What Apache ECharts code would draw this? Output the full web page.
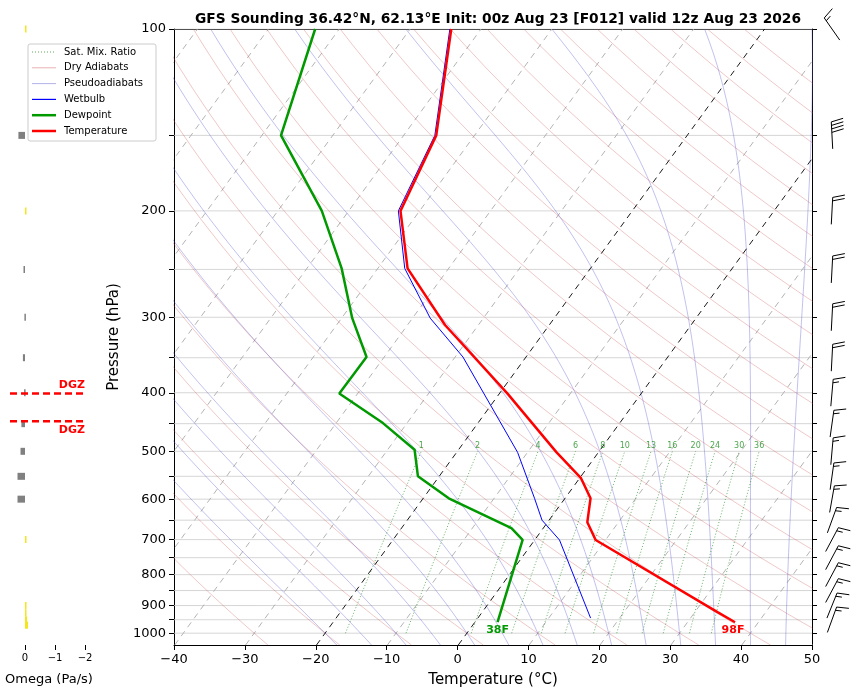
<!DOCTYPE html>
<html><head><meta charset="utf-8">
<script src="https://cdn.jsdelivr.net/npm/echarts@6/dist/echarts.min.js"></script>
<style>html,body{margin:0;padding:0;background:#fff}#c{width:857px;height:696px}</style>
</head><body><div id="c"></div>
<script>
// ---- data ----
const tempP = [959,923,701,655,598,554,502,401,309,249,200,150,100];
const tempT = [36.7,33.2,8.6,5.6,3.6,0.2,-5.9,-18.9,-34.7,-45.8,-52.7,-55.4,-64.2];
const dewP  = [959,701,670,598,550,497,449,401,349,301,249,200,150,100];
const dewT  = [3.2,-1.7,-4.5,-16.4,-23.0,-26.2,-33.4,-42.6,-42.5,-48.5,-55.1,-63.8,-77.3,-83.4];
const wbP   = [944,701,650,598,502,349,301,249,200,150,100];
const wbT   = [15.9,3.5,-1.0,-4.3,-11.4,-28.9,-37.5,-46.2,-53.0,-55.6,-64.4];
const omegaP = [100,150,200,250,300,350,400,450,500,550,600,700,900,925,950,970];
const omegaV = [-0.02,0.22,-0.02,0.05,0.02,0.07,0.03,0.12,0.15,0.25,0.25,-0.03,-0.03,-0.04,-0.07,-0.1];
const barbP   = [100,150,200,250,300,350,400,450,500,550,600,650,700,750,800,850,900,950];
const barbSpd = [15,40,20,20,20,20,15,15,15,15,15,15,15,15,15,15,15,15];
const barbDir = [325,357,3,3,3,3,5,8,5,8,10,20,28,28,28,28,22,20];
const mixW = [1,2,4,6,8,10,13,16,20,24,30,36];
const pLevels = [100,150,200,250,300,350,400,450,500,550,600,650,700,750,800,850,900,950,1000];
const pLabels = [100,200,300,400,500,600,700,800,900,1000];
const dgzP = [401,446];
const title = 'GFS Sounding 36.42°N, 62.13°E Init: 00z Aug 23 [F012] valid 12z Aug 23 2026';

const SK = 62, PREF = 1050, PBOT = 1046;
const sx = (t,p) => t + SK*Math.log10(PREF/p);
const prof = (P,T) => P.map((p,i)=>[sx(T[i],p),p]);

const series = [];
const bg = (data, style, z) => series.push({type:'line',data,showSymbol:false,silent:true,lineStyle:style,z:z||1,xAxisIndex:0,yAxisIndex:0,animation:false});

pLevels.forEach(p=>bg([[-40,p],[50,p]],{color:'#cccccc',width:0.8}));
for(let t=-130;t<=50;t+=10){
  const black = (t===0||t===-20);
  bg([[sx(t,PBOT),PBOT],[sx(t,100),100]],{color:black?'#000':'#aaaaaa',width:0.9,type:[6,5]}, black?2:1);
}
for(let th=-30;th<=210;th+=10){
  const d=[]; for(let p=PBOT;p>=100;p-=10){const T=(th+273.15)*Math.pow(p/1000,0.2857)-273.15;d.push([sx(T,p),p]);}
  d.push([sx((th+273.15)*Math.pow(0.1,0.2857)-273.15,100),100]);
  bg(d,{color:'rgba(200,70,70,0.5)',width:0.6});
}
function es(T){return 6.112*Math.exp(17.67*(T-273.15)/(T-29.65));}
function dTdp(T,p){const e=es(T),rs=0.622*e/(p-e);const Rd=287.04,Cp=1005.7,Lv=2.501e6;
  return (Rd*T+Lv*rs)/(Cp+Lv*Lv*rs*0.622/(Rd*T*T))/p;}
for(let t0=-20;t0<=45;t0+=5){
  let T=t0+273.15,p=1000;const up=[[sx(t0,1000),1000]];
  while(p>100){const dp=-5;T+=dTdp(T,p)*dp;p+=dp;up.push([sx(T-273.15,p),p]);}
  T=t0+273.15;p=1000;const dn=[];
  while(p<PBOT){const dp=2;T+=dTdp(T,p)*dp;p+=dp;dn.unshift([sx(T-273.15,p),p]);}
  bg(dn.concat(up),{color:'rgba(80,80,210,0.6)',width:0.6});
}
mixW.forEach(w=>{
  const d=[];for(let p=1000;p>=500;p-=10){const e=w*p/(622+w);const l=Math.log(e/6.112);const Td=243.5*l/(17.67-l);d.push([sx(Td,p),p]);}
  series.push({type:'line',data:d,showSymbol:false,silent:true,animation:false,z:1,
    lineStyle:{color:'rgba(0,128,0,0.75)',width:0.8,type:[1,2]},
    markPoint:{symbol:'circle',symbolSize:0,data:[{coord:d[d.length-1],label:{show:true,formatter:String(w),color:'rgba(0,128,0,0.7)',fontSize:8,offset:[0,-5],fontFamily:'DejaVu Sans'}}]}});
});
series.push({type:'line',data:prof(wbP,wbT),showSymbol:false,lineStyle:{color:'#0000ff',width:1},z:5,animation:false});
series.push({type:'line',data:prof(dewP,dewT),showSymbol:false,lineStyle:{color:'#009900',width:2.5},z:6,animation:false,
  markPoint:{symbol:'circle',symbolSize:0,data:[{coord:[sx(dewT[0],dewP[0]),dewP[0]],label:{show:true,formatter:'38F',color:'#009900',fontWeight:'bold',fontSize:11,offset:[0,8],fontFamily:'DejaVu Sans'}}]}});
series.push({type:'line',data:prof(tempP,tempT),showSymbol:false,lineStyle:{color:'#ff0000',width:2.5},z:7,animation:false,
  markPoint:{symbol:'circle',symbolSize:0,data:[{coord:[sx(tempT[0],tempP[0]),tempP[0]],label:{show:true,formatter:'98F',color:'#ff0000',fontWeight:'bold',fontSize:11,offset:[-2,8],fontFamily:'DejaVu Sans'}}]}});
series.push({type:'custom',xAxisIndex:0,yAxisIndex:0,clip:false,animation:false,z:8,silent:true,
  data:barbP.map((p,i)=>[50,p,barbSpd[i],barbDir[i]]),
  renderItem:(params,api)=>{
    const c=api.coord([api.value(0),api.value(1)]);const spd=api.value(2),dir=api.value(3)*Math.PI/180;
    const cx=c[0]+20,cy=c[1];const ux=Math.sin(dir),uy=-Math.cos(dir);const px=Math.cos(dir),py=Math.sin(dir);
    const L=27;const bx=cx-ux*L/2,by=cy-uy*L/2,tx=cx+ux*L/2,ty=cy+uy*L/2;
    const ch=[{type:'line',shape:{x1:bx,y1:by,x2:tx,y2:ty},style:{stroke:'#000',lineWidth:1}}];
    let s=spd,k=0;
    while(s>=10){const ox=tx-ux*k*3.5,oy=ty-uy*k*3.5;ch.push({type:'line',shape:{x1:ox,y1:oy,x2:ox+px*12+ux*3,y2:oy+py*12+uy*3},style:{stroke:'#000',lineWidth:1}});s-=10;k++;}
    if(s>=5){const ox=tx-ux*k*3.5,oy=ty-uy*k*3.5;ch.push({type:'line',shape:{x1:ox,y1:oy,x2:ox+px*6+ux*1.5,y2:oy+py*6+uy*1.5},style:{stroke:'#000',lineWidth:1}});}
    return {type:'group',children:ch};
  }});
series.push({type:'custom',xAxisIndex:2,yAxisIndex:2,animation:false,
  data:omegaP.map((p,i)=>[omegaV[i],p]),
  renderItem:(params,api)=>{
    const a=api.coord([0,api.value(1)]),b=api.coord([api.value(0),api.value(1)]);
    const x=Math.min(a[0],b[0]),w=Math.max(1.5,Math.abs(a[0]-b[0]));
    return {type:'rect',shape:{x:x,y:a[1]-3.5,width:w,height:7},style:{fill:api.value(0)>0?'#808080':'#f5e61a'}};
  }});
dgzP.forEach((p,i)=>series.push({type:'line',xAxisIndex:2,yAxisIndex:2,data:[[0.5,p],[-2,p]],showSymbol:false,animation:false,
  lineStyle:{color:'#ff0000',width:2.5,type:[7,4]},
  markPoint:{symbol:'circle',symbolSize:0,data:[{coord:[-2,p],label:{show:true,formatter:'DGZ',color:'#ff0000',fontWeight:'bold',fontSize:11,position:'inside',align:'right',offset:[0,i===0?-8:9],fontFamily:'DejaVu Sans'}}]}}));

const ax = {axisLine:{show:true,onZero:false,lineStyle:{color:'#000',width:1}},axisTick:{show:true,lineStyle:{color:'#000'}},splitLine:{show:false},axisLabel:{color:'#000',fontSize:13,fontFamily:'DejaVu Sans'}};
const option = {
  backgroundColor:'#fff',animation:false,
  title:{text:title,left:493,top:7,textAlign:'center',textStyle:{fontSize:13.8,fontWeight:'bold',fontFamily:'DejaVu Sans',color:'#000'}},
  grid:[{left:174,right:45,top:29,bottom:51},{left:174,right:45,top:29,bottom:51},{left:10,width:78,top:29,bottom:51}],
  xAxis:[
    Object.assign({},ax,{type:'value',gridIndex:0,min:-40,max:50,interval:10,name:'Temperature (°C)',nameLocation:'middle',nameGap:28,nameTextStyle:{fontSize:15,fontFamily:'DejaVu Sans',color:'#000'},axisLabel:Object.assign({},ax.axisLabel,{formatter:v=>String(v).replace('-','\u2212')})}),
    {type:'value',gridIndex:1,position:'top',min:-40,max:50,axisLine:{show:true,onZero:false,lineStyle:{color:'#000'}},axisTick:{show:false},axisLabel:{show:false},splitLine:{show:false}},
    {type:'value',gridIndex:2,min:-2.1,max:0.5,inverse:true,name:'Omega (Pa/s)',nameLocation:'middle',nameGap:28,nameTextStyle:{fontSize:13,fontFamily:'DejaVu Sans',color:'#000'},
     axisLine:{show:false},axisTick:{show:true,customValues:[0,-1,-2],lineStyle:{color:'#000'}},splitLine:{show:false},
     axisLabel:{customValues:[0,-1,-2],formatter:v=>v===0?'0':'\u2212'+Math.abs(v),fontSize:10,color:'#000',fontFamily:'DejaVu Sans'}}
  ],
  yAxis:[
    Object.assign({},ax,{type:'log',logBase:10,gridIndex:0,min:100,max:PBOT,inverse:true,name:'Pressure (hPa)',nameLocation:'middle',nameGap:44,nameTextStyle:{fontSize:15,fontFamily:'DejaVu Sans',color:'#000'},
      axisTick:{show:true,customValues:pLevels,lineStyle:{color:'#000'}},axisLabel:Object.assign({},ax.axisLabel,{customValues:pLabels,formatter:v=>String(Math.round(v))}),minorTick:{show:false}}),
    {type:'log',logBase:10,gridIndex:1,position:'right',min:100,max:PBOT,inverse:true,axisLine:{show:true,onZero:false,lineStyle:{color:'#000'}},axisTick:{show:true,customValues:pLevels,lineStyle:{color:'#000'}},axisLabel:{show:false},splitLine:{show:false}},
    {type:'log',logBase:10,gridIndex:2,min:100,max:PBOT,inverse:true,show:false}
  ],
  series:series,
  graphic:[
    {type:'rect',shape:{x:28,y:44,width:128,height:97,r:2},style:{fill:'rgba(255,255,255,0.85)',stroke:'#ccc',lineWidth:1},z:100},
    ...[['Sat. Mix. Ratio','rgba(0,128,0,0.8)',0.8,[1,2]],['Dry Adiabats','rgba(200,70,70,0.6)',0.7,null],['Pseudoadiabats','rgba(70,70,200,0.6)',0.7,null],['Wetbulb','#0000ff',1.2,null],['Dewpoint','#009900',2.5,null],['Temperature','#ff0000',2.5,null]].flatMap((e,i)=>{
      const y=52+i*15.8;const st={stroke:e[1],lineWidth:e[2]};if(e[3])st.lineDash=e[3];return [
      {type:'line',shape:{x1:32,y1:y,x2:56,y2:y},style:st,z:101},
      {type:'text',x:64,y:y,style:{text:e[0],fontSize:10,fontFamily:'DejaVu Sans',fill:'#000',verticalAlign:'middle'},z:101}];})
  ]
};
echarts.init(document.getElementById('c')).setOption(option);
</script></body></html>
